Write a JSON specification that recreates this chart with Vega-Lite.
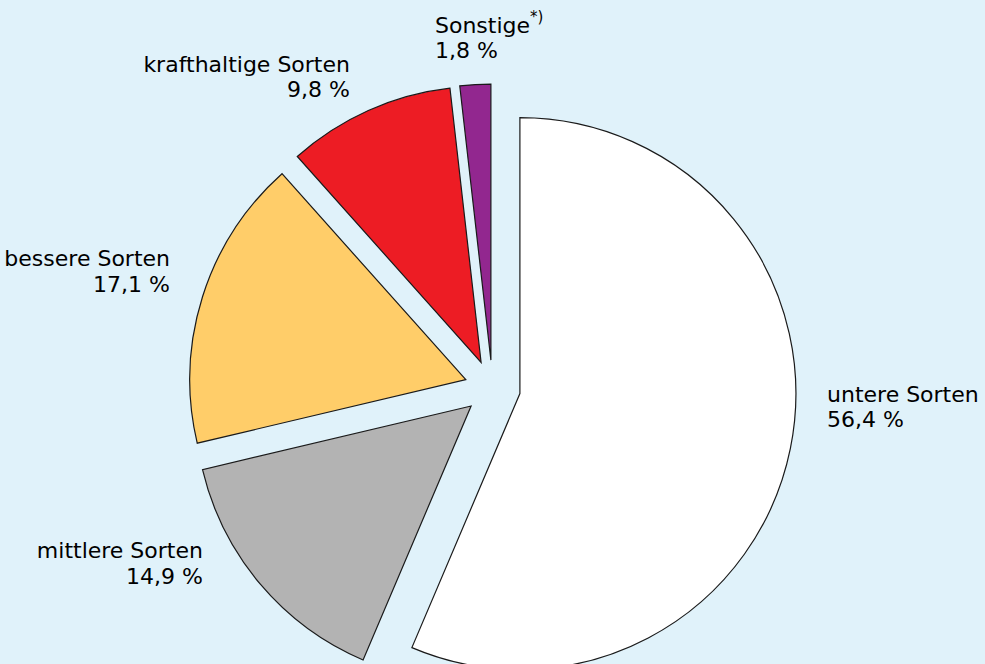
{
  "$schema": "https://vega.github.io/schema/vega-lite/v6.json",
  "width": 985,
  "height": 664,
  "autosize": {"type": "none"},
  "padding": 0,
  "background": "#e0f2fa",
  "view": {"stroke": null},
  "config": {"text": {"font": "DejaVu Sans", "fontSize": 22, "lineHeight": 25.6, "color": "#000000"}},
  "data": {
    "values": [
      {"sorte": "untere Sorten", "anteil": 56.4, "rang": 1, "label": ["untere Sorten", "56,4 %"]},
      {"sorte": "mittlere Sorten", "anteil": 14.9, "rang": 2, "label": ["mittlere Sorten", "14,9 %"]},
      {"sorte": "bessere Sorten", "anteil": 17.1, "rang": 3, "label": ["bessere Sorten", "17,1 %"]},
      {"sorte": "krafthaltige Sorten", "anteil": 9.8, "rang": 4, "label": ["krafthaltige Sorten", "9,8 %"]},
      {"sorte": "Sonstige", "anteil": 1.8, "rang": 5, "label": ["Sonstige", "1,8 %"], "fussnote": "*)"}
    ]
  },
  "transform": [
    {"stack": "anteil", "groupby": [], "sort": [{"field": "rang", "order": "ascending"}], "as": ["start", "end"]}
  ],
  "layer": [
    {
      "transform": [{"filter": "datum.sorte === 'untere Sorten'"}],
      "mark": {"type": "arc", "outerRadius": 276, "stroke": "#1a1a1a", "strokeWidth": 1.2, "xOffset": 27.4, "yOffset": 61.6},
      "encoding": {
        "theta": {"field": "start", "type": "quantitative", "scale": {"domain": [0, 100]}},
        "theta2": {"field": "end"},
        "fill": {"field": "sorte", "type": "nominal", "legend": null,
          "scale": {"domain": ["untere Sorten", "mittlere Sorten", "bessere Sorten", "krafthaltige Sorten", "Sonstige"],
                    "range": ["#ffffff", "#b3b3b3", "#ffcd69", "#ed1c24", "#92278f"]}}
      }
    },
    {
      "transform": [{"filter": "datum.sorte === 'mittlere Sorten'"}],
      "mark": {"type": "arc", "outerRadius": 276, "stroke": "#1a1a1a", "strokeWidth": 1.2, "xOffset": -21.4, "yOffset": 74.0},
      "encoding": {
        "theta": {"field": "start", "type": "quantitative", "scale": {"domain": [0, 100]}},
        "theta2": {"field": "end"},
        "fill": {"field": "sorte", "type": "nominal", "legend": null}
      }
    },
    {
      "transform": [{"filter": "datum.sorte === 'bessere Sorten'"}],
      "mark": {"type": "arc", "outerRadius": 276, "stroke": "#1a1a1a", "strokeWidth": 1.2, "xOffset": -26.7, "yOffset": 47.6},
      "encoding": {
        "theta": {"field": "start", "type": "quantitative", "scale": {"domain": [0, 100]}},
        "theta2": {"field": "end"},
        "fill": {"field": "sorte", "type": "nominal", "legend": null}
      }
    },
    {
      "transform": [{"filter": "datum.sorte === 'krafthaltige Sorten'"}],
      "mark": {"type": "arc", "outerRadius": 276, "stroke": "#1a1a1a", "strokeWidth": 1.2, "xOffset": -11.4, "yOffset": 30.4},
      "encoding": {
        "theta": {"field": "start", "type": "quantitative", "scale": {"domain": [0, 100]}},
        "theta2": {"field": "end"},
        "fill": {"field": "sorte", "type": "nominal", "legend": null}
      }
    },
    {
      "transform": [{"filter": "datum.sorte === 'Sonstige'"}],
      "mark": {"type": "arc", "outerRadius": 276, "stroke": "#1a1a1a", "strokeWidth": 1.2, "xOffset": -1.6, "yOffset": 28.1},
      "encoding": {
        "theta": {"field": "start", "type": "quantitative", "scale": {"domain": [0, 100]}},
        "theta2": {"field": "end"},
        "fill": {"field": "sorte", "type": "nominal", "legend": null}
      }
    },
    {
      "transform": [{"filter": "datum.sorte === 'untere Sorten'"}],
      "mark": {"type": "text", "theta": 1.7762, "radius": 341.7, "align": "left", "baseline": "alphabetic"},
      "encoding": {"text": {"field": "label"}}
    },
    {
      "transform": [{"filter": "datum.sorte === 'mittlere Sorten'"}],
      "mark": {"type": "text", "theta": 4.0490, "radius": 367.5, "align": "right", "baseline": "alphabetic"},
      "encoding": {"text": {"field": "label"}}
    },
    {
      "transform": [{"filter": "datum.sorte === 'bessere Sorten'"}],
      "mark": {"type": "text", "theta": 4.9143, "radius": 329.2, "align": "right", "baseline": "alphabetic"},
      "encoding": {"text": {"field": "label"}}
    },
    {
      "transform": [{"filter": "datum.sorte === 'krafthaltige Sorten'"}],
      "mark": {"type": "text", "theta": 5.7823, "radius": 296.8, "align": "right", "baseline": "alphabetic"},
      "encoding": {"text": {"field": "label"}}
    },
    {
      "transform": [{"filter": "datum.sorte === 'Sonstige'"}],
      "mark": {"type": "text", "theta": 6.0934, "radius": 304.8, "align": "left", "baseline": "alphabetic"},
      "encoding": {"text": {"field": "label"}}
    },
    {
      "transform": [{"filter": "datum.sorte === 'Sonstige'"}],
      "mark": {"type": "text", "theta": 0.1204, "radius": 312.3, "align": "left", "baseline": "alphabetic", "fontSize": 15},
      "encoding": {"text": {"field": "fussnote"}}
    }
  ]
}
